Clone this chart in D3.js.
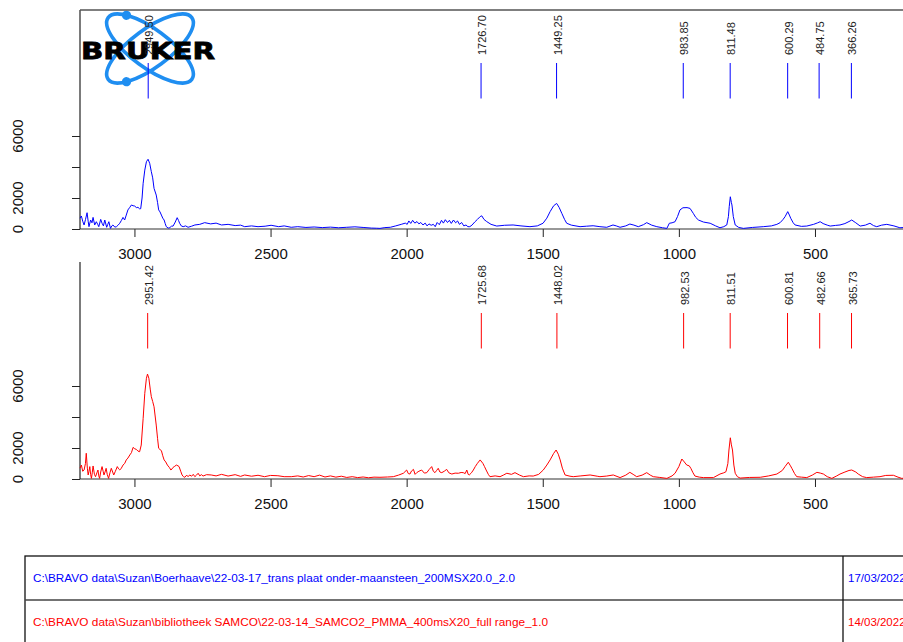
<!DOCTYPE html>
<html>
<head>
<meta charset="utf-8">
<script src="https://cdn.jsdelivr.net/npm/d3@7.9.0/dist/d3.min.js"></script>
<style>
  body { margin: 0; background: #fff; overflow: hidden; }
  svg { display: block; font-family: "Liberation Sans", Arial, sans-serif; }
</style>
</head>
<body>
<svg width="903" height="642"></svg>
<script>
// tick values
const xTicks = [3000, 2500, 2000, 1500, 1000, 500];
const yTicks = [0, 2000, 4000, 6000];
const yLabelled = [0, 2000, 6000];

// picked peaks (cm-1)
const peaksTop = [2949.50, 1726.70, 1449.25, 983.85, 811.48, 600.29, 484.75, 366.26];
const peaksBottom = [2951.42, 1725.68, 1448.02, 982.53, 811.51, 600.81, 482.66, 365.73];

// file list under the plots
const fileNames = [
    "C:\\BRAVO data\\Suzan\\Boerhaave\\22-03-17_trans plaat onder-maansteen_200MSX20.0_2.0",
    "C:\\BRAVO data\\Suzan\\bibliotheek SAMCO\\22-03-14_SAMCO2_PMMA_400msX20_full range_1.0"
];
const fileDates = ["17/03/2022", "14/03/2022"];

// spectra, [wavenumber, intensity]
const spectrumTop = [
    [3200,700],[3195,840],[3190,500],[3185,260],[3180,600],[3174,1050],[3170,500],[3167,150],[3161,580],[3156,400],
    [3152,750],[3146,260],[3140,470],[3135,300],[3131,150],[3124,620],[3119,370],[3114,200],[3109,580],[3102,110],
    [3098,300],[3094,470],[3088,40],[3083,200],[3079,260],[3072,120],[3066,150],[3060,250],[3054,370],[3048,550],
    [3042,750],[3036,580],[3030,900],[3024,1230],[3017,1400],[3011,1550],[3005,1500],[2999,1480],[2993,1380],[2987,1400],
    [2981,1300],[2977,1310],[2972,2000],[2968,2950],[2962,3800],[2956,4340],[2950,4500],[2944,4240],[2938,3700],[2933,3300],
    [2928,2620],[2920,2190],[2915,1700],[2911,1230],[2906,1100],[2901,900],[2896,700],[2891,580],[2887,350],[2883,150],
    [2876,60],[2870,90],[2864,180],[2858,190],[2850,450],[2843,730],[2838,550],[2834,370],[2828,200],[2821,150],
    [2812,200],[2803,110],[2790,180],[2778,260],[2760,300],[2742,410],[2720,330],[2700,380],[2680,260],[2656,300],
    [2630,220],[2610,250],[2595,150],[2570,200],[2546,150],[2520,180],[2498,240],[2470,150],[2450,200],[2424,110],
    [2400,150],[2370,100],[2340,130],[2310,90],[2280,120],[2250,80],[2220,110],[2190,140],[2160,100],[2130,60],
    [2110,50],[2098,40],[2080,90],[2060,110],[2040,200],[2020,300],[2005,380],[1998,300],[1992,520],[1985,360],
    [1978,560],[1970,380],[1962,480],[1955,330],[1948,420],[1940,260],[1932,380],[1925,200],[1918,330],[1910,240],
    [1902,300],[1895,150],[1888,420],[1880,280],[1872,560],[1865,380],[1858,600],[1850,420],[1843,560],[1836,360],
    [1828,580],[1820,400],[1813,520],[1806,300],[1798,420],[1790,200],[1782,260],[1775,150],[1768,150],[1760,250],
    [1750,450],[1740,620],[1730,800],[1724,850],[1716,620],[1706,480],[1690,300],[1669,190],[1640,240],[1609,260],
    [1580,200],[1547,150],[1520,200],[1499,370],[1485,700],[1473,1120],[1460,1500],[1449,1650],[1440,1400],[1430,1010],
    [1420,620],[1412,370],[1395,250],[1363,150],[1340,180],[1315,210],[1290,150],[1265,110],[1242,260],[1230,200],
    [1216,110],[1195,200],[1180,320],[1165,250],[1149,150],[1130,280],[1118,410],[1100,250],[1081,150],[1060,80],
    [1044,40],[1035,370],[1025,400],[1014,470],[1005,800],[996,1230],[985,1370],[970,1380],[959,1330],[947,1010],
    [938,750],[928,580],[910,450],[885,370],[865,200],[849,80],[835,150],[824,260],[818,800],[815,1440],
    [811,2080],[807,1700],[805,1550],[800,800],[793,260],[780,100],[763,40],[730,100],[690,150],[660,200],
    [640,300],[628,410],[618,600],[610,790],[600,1120],[594,900],[589,690],[580,400],[573,260],[550,170],
    [530,190],[505,300],[490,400],[481,470],[470,350],[455,250],[444,190],[425,230],[408,260],[390,350],
    [375,480],[365,580],[350,400],[334,190],[315,250],[298,370],[285,220],[273,150],[255,250],[236,300],
    [210,200],[188,80],[170,100]
];

const spectrumBottom = [
    [3200,700],[3195,900],[3190,500],[3185,580],[3180,1000],[3177,1660],[3173,700],[3170,260],[3167,500],[3164,800],
    [3161,300],[3158,40],[3155,400],[3152,840],[3147,300],[3143,150],[3138,400],[3134,580],[3131,200],[3128,40],
    [3124,450],[3119,800],[3115,500],[3112,260],[3108,450],[3104,690],[3100,300],[3095,40],[3090,400],[3085,690],
    [3080,450],[3076,260],[3070,500],[3063,800],[3058,650],[3054,580],[3048,700],[3042,900],[3036,1000],[3030,1230],
    [3024,1350],[3017,1550],[3011,1700],[3005,2040],[2999,1950],[2993,1910],[2987,1800],[2981,1760],[2975,2190],[2968,3910],
    [2962,5530],[2956,6500],[2952,6770],[2947,6500],[2942,5800],[2938,5310],[2933,5000],[2928,4660],[2920,3480],[2915,2600],
    [2911,1980],[2906,1900],[2901,1830],[2896,1500],[2891,1230],[2885,1100],[2879,900],[2872,750],[2866,580],[2862,650],
    [2858,750],[2852,820],[2846,900],[2840,850],[2836,800],[2830,500],[2825,260],[2820,150],[2815,110],[2808,250],
    [2803,150],[2797,260],[2790,180],[2784,300],[2778,150],[2772,250],[2766,370],[2760,200],[2754,280],[2748,190],
    [2735,280],[2718,260],[2700,200],[2680,300],[2656,190],[2630,280],[2610,170],[2595,260],[2570,180],[2546,240],
    [2522,150],[2500,230],[2473,210],[2450,150],[2424,150],[2400,200],[2380,130],[2360,220],[2340,150],[2320,250],
    [2300,130],[2280,200],[2260,120],[2240,180],[2220,100],[2200,150],[2180,90],[2160,130],[2140,80],[2120,120],
    [2098,110],[2070,130],[2049,150],[2030,250],[2012,370],[2000,580],[1994,350],[1988,320],[1982,520],[1975,620],
    [1969,300],[1963,410],[1955,500],[1945,580],[1935,380],[1926,410],[1918,600],[1908,800],[1902,500],[1896,410],
    [1890,550],[1884,690],[1878,450],[1871,410],[1862,500],[1853,620],[1845,400],[1834,320],[1822,380],[1810,370],
    [1800,420],[1792,410],[1785,350],[1779,580],[1774,300],[1770,260],[1762,400],[1755,580],[1748,800],[1740,1010],
    [1730,1230],[1720,1010],[1714,800],[1708,580],[1700,300],[1694,150],[1675,200],[1657,150],[1645,250],[1632,370],
    [1615,300],[1602,410],[1585,250],[1571,150],[1550,200],[1535,190],[1515,300],[1498,580],[1485,900],[1473,1230],
    [1460,1650],[1451,1870],[1443,1600],[1436,1230],[1428,700],[1418,260],[1400,180],[1388,150],[1360,200],[1326,260],
    [1300,180],[1290,150],[1265,190],[1241,260],[1216,90],[1195,250],[1180,430],[1168,300],[1155,150],[1135,250],
    [1118,410],[1105,250],[1094,150],[1070,100],[1044,40],[1025,200],[1014,370],[1000,800],[989,1290],[980,1100],
    [971,900],[962,850],[956,690],[948,400],[941,190],[925,120],[910,90],[873,90],[849,320],[835,400],
    [827,470],[820,1000],[816,1870],[811,2660],[807,2200],[803,1870],[798,900],[793,370],[785,150],[775,60],
    [740,100],[701,110],[670,200],[640,320],[620,550],[610,800],[598,1080],[590,850],[585,690],[575,350],
    [567,150],[550,120],[530,90],[510,250],[493,430],[480,380],[469,320],[455,150],[438,40],[420,200],
    [408,320],[390,450],[375,550],[365,580],[350,450],[341,320],[325,150],[310,90],[285,120],[261,150],
    [240,230],[212,240],[195,120],[181,40],[170,60]
];

const svg = d3.select('svg');
const pxPerUnit = 0.0155;

let x = d3.scaleLinear().domain([3200, 170]).range([80, 904.8]);

function drawPanel(spectrum, peaks, color, zeroY, topY, frameTop) {
    let y = d3.scaleLinear().domain([0, 14000]).range([zeroY, zeroY - 14000 * pxPerUnit]);
    let g = svg.append('g');

    // x axis
    let xAxis = g.append('g')
        .attr('transform', `translate(0,${zeroY})`)
        .call(d3.axisBottom(x).tickValues(xTicks).tickFormat((d) => String(d))
            .tickSize(8).tickPadding(11).tickSizeOuter(0));
    xAxis.select('.domain').remove();
    xAxis.attr('color', '#222');
    xAxis.selectAll('text').attr('font-size', 15).attr('font-family', '"Liberation Sans", Arial, sans-serif').attr('fill', '#111');

    g.append('line')
        .attr('x1', 80).attr('x2', 903).attr('y1', zeroY).attr('y2', zeroY)
        .attr('stroke', '#333').attr('stroke-width', 1.2);

    // y axis
    let yAxis = g.append('g')
        .attr('transform', 'translate(80,0)')
        .call(d3.axisLeft(y).tickValues(yTicks).tickSize(8).tickFormat(''));
    yAxis.select('.domain').remove();
    yAxis.attr('color', '#222');

    g.selectAll('text.ylab')
        .data(yLabelled)
        .join('text')
        .attr('class', 'ylab')
        .attr('transform', (d) => `translate(23,${y(d)}) rotate(-90)`)
        .attr('text-anchor', 'middle')
        .attr('font-size', 15)
        .attr('fill', '#111')
        .text((d) => d);

    g.append('line')
        .attr('x1', 80).attr('x2', 80).attr('y1', topY).attr('y2', zeroY)
        .attr('stroke', '#222').attr('stroke-width', 1.2);

    if (frameTop) {
        g.append('line')
            .attr('x1', 80).attr('x2', 903).attr('y1', topY).attr('y2', topY)
            .attr('stroke', '#555').attr('stroke-width', 1.4);
    }

    // spectrum
    let line = d3.line().x((d) => x(d[0])).y((d) => y(d[1]));
    g.append('path')
        .datum(spectrum)
        .attr('d', line)
        .attr('fill', 'none')
        .attr('stroke', color)
        .attr('stroke-width', 1)
        .attr('stroke-linejoin', 'round');

    // peak markers
    g.selectAll('line.peak')
        .data(peaks)
        .join('line')
        .attr('class', 'peak')
        .attr('x1', (d) => x(d)).attr('x2', (d) => x(d))
        .attr('y1', zeroY - 166).attr('y2', zeroY - 130.5)
        .attr('stroke', color)
        .attr('stroke-width', 1);

    g.selectAll('text.peak')
        .data(peaks)
        .join('text')
        .attr('class', 'peak')
        .attr('transform', (d) => `translate(${x(d) + 5},${zeroY - 174}) rotate(-90)`)
        .attr('font-size', 11)
        .attr('fill', '#222')
        .text((d) => d.toFixed(2));
}

// Bruker logo, drawn first so the peak labels sit over it
function drawLogo() {
    let logo = svg.append('g').attr('transform', 'translate(150,48.5)');
    let blue = '#1f8ef1';
    [36.5, -36.5].forEach((angle) => {
        let orbit = logo.append('g').attr('transform', `rotate(${angle})`);
        orbit.append('ellipse')
            .attr('rx', 52).attr('ry', 19)
            .attr('fill', 'none')
            .attr('stroke', blue)
            .attr('stroke-width', 3.6);
        let t = (angle > 0 ? 222 : 138) * Math.PI / 180;
        orbit.append('circle')
            .attr('cx', 52 * Math.cos(t)).attr('cy', 19 * Math.sin(t))
            .attr('r', 4.6)
            .attr('fill', blue);
    });
    svg.append('text')
        .attr('x', 81).attr('y', 59)
        .attr('font-family', '"DejaVu Sans", sans-serif')
        .attr('font-weight', 'bold')
        .attr('font-size', 23)
        .attr('stroke', '#000')
        .attr('stroke-width', 0.8)
        .attr('textLength', 134)
        .attr('lengthAdjust', 'spacingAndGlyphs')
        .attr('fill', '#000')
        .text('BRUKER');
}

drawLogo();
drawPanel(spectrumTop, peaksTop, '#0000ff', 229, 10, true);
drawPanel(spectrumBottom, peaksBottom, '#ff0000', 479, 262, false);

// file table
let table = svg.append('g');
table.append('rect')
    .attr('x', 25).attr('y', 556).attr('width', 900).attr('height', 100)
    .attr('fill', 'none').attr('stroke', '#111').attr('stroke-width', 1.3);
table.append('line')
    .attr('x1', 25).attr('x2', 903).attr('y1', 600).attr('y2', 600)
    .attr('stroke', '#444').attr('stroke-width', 1.3);
table.append('line')
    .attr('x1', 843).attr('x2', 843).attr('y1', 556).attr('y2', 642)
    .attr('stroke', '#111').attr('stroke-width', 1.3);

let rowColors = ['#0000ff', '#ff0000'];
let rowWidths = [482, 515];
fileNames.forEach((name, i) => {
    table.append('text')
        .attr('x', 33).attr('y', 582 + i * 44)
        .attr('font-size', 11.5)
        .attr('textLength', rowWidths[i])
        .attr('lengthAdjust', 'spacingAndGlyphs')
        .attr('fill', rowColors[i])
        .text(name);
    // the date column runs past the right edge, as in the original
    table.append('text')
        .attr('x', 848).attr('y', 582 + i * 44)
        .attr('font-size', 11.5)
        .attr('fill', rowColors[i])
        .text(fileDates[i]);
});
</script>
</body>
</html>
